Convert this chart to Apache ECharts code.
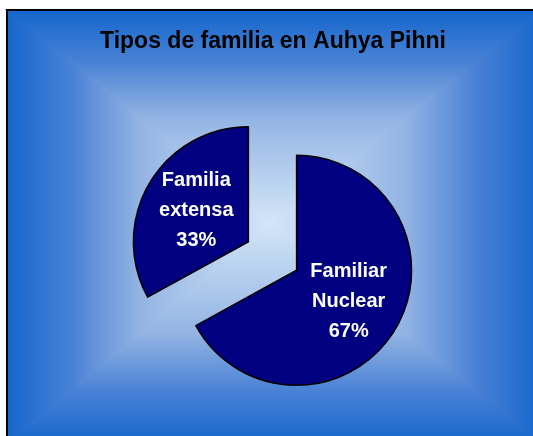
<!DOCTYPE html>
<html>
<head>
<meta charset="utf-8">
<script src="https://cdn.jsdelivr.net/npm/echarts@6/dist/echarts.min.js"></script>
<style>
html,body{margin:0;padding:0;background:#fff;}
#chart{width:533px;height:436px;}
</style>
</head>
<body>
<div id="chart"></div>
<script>
var titleText = 'Tipos de familia en Auhya Pihni';
var categories = ['Familiar Nuclear', 'Familia extensa'];
var values = [67, 33];

var x0 = 7, y0 = 10, x1 = 534, y1 = 437;
var cx = (x0 + x1) / 2, cy = (y0 + y1) / 2;
var stops = [
  {offset: 0, color: '#1466cc'},
  {offset: 0.25, color: '#4a82d6'},
  {offset: 0.5, color: '#92b3e3'},
  {offset: 1, color: '#d4e6f7'}
];
function grad(xa, ya, xb, yb) {
  return new echarts.graphic.LinearGradient(xa, ya, xb, yb, stops);
}
function tri(pts, g) {
  return {type: 'polygon', z: -10, silent: true, shape: {points: pts},
    style: {fill: g, stroke: g, lineWidth: 1.5, lineJoin: 'miter'}};
}

var chart = echarts.init(document.getElementById('chart'), null, {renderer: 'canvas'});
chart.setOption({
  backgroundColor: '#ffffff',
  animation: false,
  graphic: [
    {type: 'rect', z: -11, silent: true, shape: {x: x0, y: y0, width: 600, height: 600}, style: {fill: '#6f9bdc'}},
    tri([[x0, y0], [x1 + 8, y0], [cx, cy]], grad(0, 0, 0, 1)),
    tri([[x0, y1 + 8], [x1 + 8, y1 + 8], [cx, cy]], grad(0, 1, 0, 0)),
    tri([[x0, y0], [x0, y1 + 8], [cx, cy]], grad(0, 0, 1, 0)),
    tri([[x1 + 8, y0], [x1 + 8, y1 + 8], [cx, cy]], grad(1, 0, 0, 0)),
    {type: 'rect', z: -5, silent: true, shape: {x: x0, y: y0, width: 600, height: 600}, style: {fill: 'none', stroke: '#000', lineWidth: 2}}
  ],
  title: {
    text: titleText,
    left: 268,
    textAlign: 'center',
    top: 25,
    textStyle: {fontFamily: 'Liberation Sans, Arial, sans-serif', fontWeight: 'bold', fontSize: 23, color: '#000'}
  },
  series: [{
    type: 'pie',
    center: [272.5, 256],
    radius: [0, 115],
    startAngle: 90,
    clockwise: true,
    selectedMode: 'multiple',
    selectedOffset: 28,
    percentPrecision: 0,
    itemStyle: {color: '#000080', borderColor: '#000', borderWidth: 1.5},
    select: {itemStyle: {color: '#000080', borderColor: '#000', borderWidth: 1.5}},
    emphasis: {disabled: true},
    label: {
      show: true,
      position: 'inside',
      color: '#fff',
      fontFamily: 'Liberation Sans, Arial, sans-serif',
      fontWeight: 'bold',
      fontSize: 20,
      lineHeight: 30,
      align: 'center',
      formatter: function (p) {
        return p.name.split(' ').join('\n') + '\n' + Math.round(p.percent) + '%';
      }
    },
    labelLine: {show: false},
    data: categories.map(function (c, i) { return {name: c, value: values[i], selected: true}; })
  }]
});
</script>
</body>
</html>
